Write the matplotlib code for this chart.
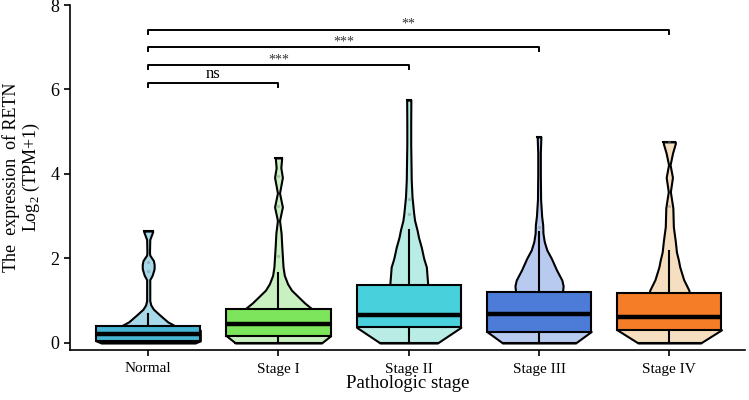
import matplotlib
matplotlib.use("Agg")
import matplotlib.pyplot as plt
import numpy as np
from matplotlib.patches import Rectangle

plt.rcParams['font.family'] = ['Liberation Serif', 'DejaVu Serif']
plt.rcParams['mathtext.fontset'] = 'custom'
plt.rcParams['mathtext.rm'] = 'Liberation Serif'

categories = ["Normal", "Stage I", "Stage II", "Stage III", "Stage IV"]
box_colors = ["#46B4D3", "#7DE55B", "#48D0DC", "#4C7CD8", "#F57D28"]
violin_colors = ["#A8D9EA", "#C9F0C0", "#B8ECE4", "#B9CAF0", "#F5DFC0"]

# box statistics (lower whisker, q1, median, q3, upper whisker)
whisker_low = [0.0, 0.0, 0.0, 0.0, 0.0]
q1 = [0.05, 0.17, 0.37, 0.27, 0.31]
median = [0.21, 0.45, 0.66, 0.68, 0.62]
q3 = [0.40, 0.80, 1.37, 1.21, 1.19]
whisker_high = [0.68, 1.66, 2.67, 2.63, 2.18]

# violin profiles: y levels and half widths
violin_y = [
    [0.0, 0.05, 0.30, 0.40, 0.50, 0.66, 0.80, 0.90, 1.0, 1.5, 1.6, 1.75, 1.85, 1.95, 2.08, 2.15, 2.45, 2.63, 2.65],
    [0.0, 0.17, 0.70, 0.80, 0.95, 1.10, 1.25, 1.40, 1.60, 1.80, 2.05, 2.30, 2.60, 2.90, 3.22, 3.55, 3.92, 4.15, 4.36, 4.38],
    [0.0, 0.37, 1.30, 1.37, 1.60, 1.80, 2.00, 2.27, 2.50, 2.67, 2.90, 3.06, 3.46, 3.86, 4.30, 4.70, 5.20, 5.72, 5.75],
    [0.0, 0.27, 1.15, 1.21, 1.35, 1.49, 1.73, 2.00, 2.20, 2.40, 2.60, 2.80, 3.00, 3.40, 4.00, 4.50, 4.86, 4.88],
    [0.0, 0.31, 1.15, 1.19, 1.25, 1.50, 1.80, 1.96, 2.15, 2.43, 2.75, 3.20, 3.58, 3.92, 4.22, 4.50, 4.72, 4.76],
]
violin_hw = [
    [0.36, 0.40, 0.40, 0.21, 0.15, 0.09, 0.04, 0.02, 0.012, 0.012, 0.03, 0.045, 0.046, 0.04, 0.012, 0.01, 0.012, 0.034, 0.034],
    [0.33, 0.40, 0.30, 0.26, 0.20, 0.15, 0.10, 0.07, 0.045, 0.035, 0.03, 0.025, 0.02, 0.008, 0.03, 0.008, 0.03, 0.018, 0.024, 0.024],
    [0.22, 0.40, 0.16, 0.146, 0.14, 0.135, 0.115, 0.096, 0.075, 0.064, 0.045, 0.038, 0.025, 0.019, 0.017, 0.015, 0.015, 0.016, 0.016],
    [0.28, 0.40, 0.19, 0.18, 0.185, 0.175, 0.134, 0.095, 0.06, 0.04, 0.03, 0.028, 0.02, 0.012, 0.01, 0.01, 0.014, 0.014],
    [0.24, 0.40, 0.16, 0.153, 0.15, 0.11, 0.08, 0.07, 0.055, 0.045, 0.031, 0.027, 0.008, 0.024, 0.006, 0.025, 0.046, 0.046],
]

# faint outlier points
outlier_x = [0, 0, 1, 1, 1, 2, 2, 3, 4, 4]
outlier_y = [1.71, 1.92, 2.05, 3.25, 3.95, 3.05, 3.40, 2.75, 3.25, 4.75]

# significance comparisons (against Normal)
comp_target = [1, 2, 3, 4]
comp_label = ["ns", "***", "***", "**"]
comp_level = [6.15, 6.58, 7.00, 7.42]

fig = plt.figure(figsize=(7.49, 4.0), dpi=100)
ax = fig.add_axes([0.0935, 0.125, 0.901, 0.8625])

pos = np.arange(1, len(categories) + 1)
box_hw = 0.4
lw = 1.5

for i, p in enumerate(pos):
    y = np.array(violin_y[i])
    hw = np.array(violin_hw[i])
    ax.fill_betweenx(y, p - hw, p + hw, facecolor=violin_colors[i],
                     edgecolor='black', linewidth=lw, zorder=1)
    ax.plot([p - hw[0], p + hw[0]], [y[0], y[0]], color='black', lw=lw, zorder=1.1)
    ax.plot([p - hw[-1], p + hw[-1]], [y[-1], y[-1]], color='black', lw=lw, zorder=1.1)
    ax.plot([p, p], [whisker_low[i], q1[i]], color='black', lw=lw, zorder=2)
    ax.plot([p, p], [q3[i], whisker_high[i]], color='black', lw=lw, zorder=2)
    ax.add_patch(Rectangle((p - box_hw, q1[i]), 2 * box_hw, q3[i] - q1[i],
                           facecolor=box_colors[i], edgecolor='black',
                           linewidth=lw, zorder=3))
    ax.plot([p - box_hw, p + box_hw], [median[i], median[i]], color='black',
            lw=3.2, zorder=4, solid_capstyle='butt')

ax.scatter(pos[np.array(outlier_x)], outlier_y, s=6, color='#888888', alpha=0.45,
           zorder=1.5, linewidths=0)

for t, lab, lev in zip(comp_target, comp_label, comp_level):
    x0, x1 = pos[0], pos[t]
    ax.plot([x0, x0, x1, x1], [lev - 0.1, lev, lev, lev - 0.1], color='black',
            lw=1.4, zorder=5)
    if lab == "ns":
        ax.text((x0 + x1) / 2, lev + 0.02, lab, ha='center', va='bottom', fontsize=12)
    else:
        ax.text((x0 + x1) / 2, lev - 0.03, lab, ha='center', va='bottom', fontsize=10,
                color='#333333')

ax.set_xlim(0.40, 5.58)
ax.set_ylim(-0.166, 8.0)
ax.set_xticks(pos)
ax.set_xticklabels(categories, fontsize=11)
ax.set_yticks([0, 2, 4, 6, 8])
ax.set_yticklabels(["0", "2", "4", "6", "8"], fontsize=13)
ax.tick_params(axis='both', length=4, width=1.2, color='black')
ax.tick_params(axis='x', pad=5)
for s in ['top', 'right']:
    ax.spines[s].set_visible(False)
for s in ['left', 'bottom']:
    ax.spines[s].set_linewidth(1.2)
ax.set_xlabel("Pathologic stage", fontsize=13.5, labelpad=0)
ax.set_ylabel("The  expression  of RETN\nLog$_2$ (TPM+1)", fontsize=13,
              labelpad=6, linespacing=1.05)

fig.savefig("out.png", dpi=100)
